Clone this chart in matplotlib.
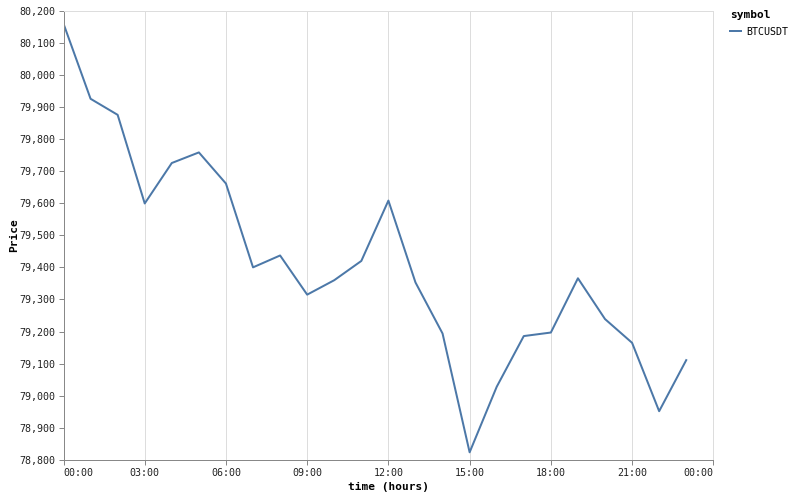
import numpy as np
import matplotlib
matplotlib.use("Agg")
import matplotlib.pyplot as plt
from matplotlib.ticker import FuncFormatter

#%% Data (hourly close)
hours = list(range(24))
price = [80159, 79925, 79875, 79599, 79725, 79758, 79661, 79400,
         79437, 79315, 79360, 79420, 79608, 79353, 79194, 78824,
         79028, 79186, 79197, 79366, 79239, 79165, 78952, 79111]
symbol = "BTCUSDT"
x_ticks = [0, 3, 6, 9, 12, 15, 18, 21, 24]
x_tick_labels = ["00:00", "03:00", "06:00", "09:00", "12:00",
                 "15:00", "18:00", "21:00", "00:00"]
y_ticks = list(range(78800, 80201, 100))

#%% Style
mono = "DejaVu Sans Mono"
line_color = "#4c78a8"
axis_color = "#888888"
grid_color = "#dddddd"
px = 0.72  # one pixel in points at dpi 100

W, H = 794, 497
fig = plt.figure(figsize=(W / 100, H / 100), dpi=100)
left, right, top, bottom = 63.5, 713.3, 10.5, 460.0
ax = fig.add_axes([left / W, (H - bottom) / H, (right - left) / W, (bottom - top) / H])

ax.plot(hours, price, color=line_color, linewidth=2 * px, label=symbol)

ax.set_xlim(0, 24)
ax.set_ylim(78800, 80200)
ax.set_xticks(x_ticks)
ax.set_xticklabels(x_tick_labels)
ax.set_yticks(y_ticks)
ax.yaxis.set_major_formatter(FuncFormatter(lambda v, p: "{:,.0f}".format(v)))

ax.grid(axis="x", color=grid_color, linewidth=px)
ax.set_axisbelow(True)

for side in ["left", "bottom"]:
    ax.spines[side].set_color(axis_color)
    ax.spines[side].set_linewidth(px)
for side in ["top", "right"]:
    ax.spines[side].set_color(grid_color)
    ax.spines[side].set_linewidth(px)

ax.tick_params(axis="both", colors=axis_color, length=5 * px, width=px,
               labelsize=7.2, labelcolor="#222222", pad=2)
for lab in ax.get_xticklabels() + ax.get_yticklabels():
    lab.set_fontfamily(mono)
xl = ax.get_xticklabels()
xl[0].set_horizontalalignment("left")
xl[-1].set_horizontalalignment("right")

ax.set_xlabel("time (hours)", fontfamily=mono, fontweight="bold",
              fontsize=8, labelpad=3)
ax.set_ylabel("Price", fontfamily=mono, fontweight="bold",
              fontsize=8, labelpad=0.5)

leg = ax.legend(loc="upper left", bbox_to_anchor=(730 / W, 1 - 10 / H),
                bbox_transform=fig.transFigure, frameon=False,
                title="symbol", alignment="left", handlelength=1.1,
                handletextpad=0.5, borderpad=0, borderaxespad=0,
                prop={"family": mono, "size": 7.2})
leg.get_title().set_fontfamily(mono)
leg.get_title().set_fontweight("bold")
leg.get_title().set_fontsize(8)
leg._legend_box.sep = 5
for h in leg.get_lines():
    h.set_linewidth(2 * px)

fig.savefig("out.png", dpi=100)
